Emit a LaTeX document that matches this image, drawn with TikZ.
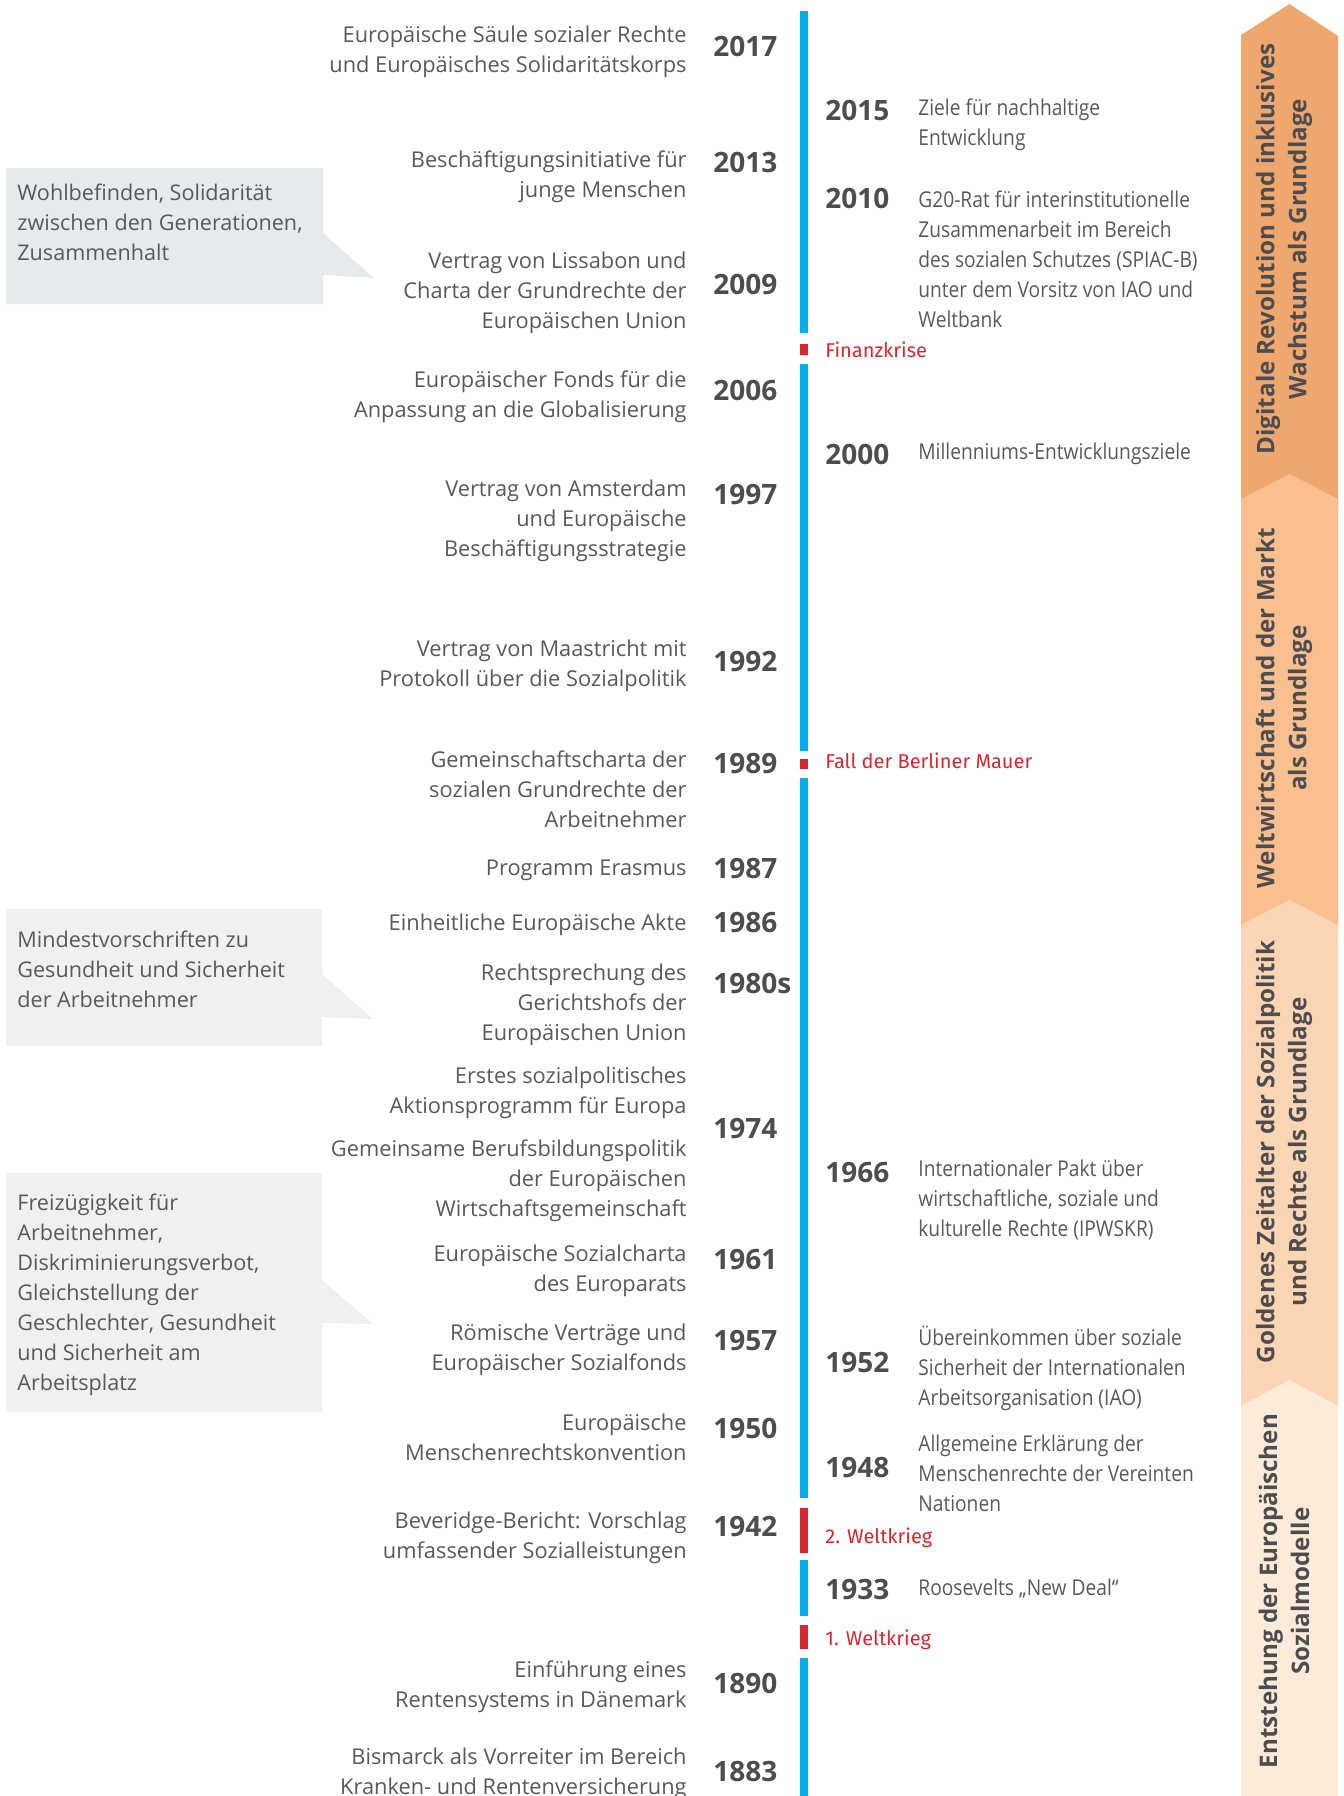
\documentclass[tikz,border=0pt]{standalone}
\usepackage{fontspec}
\setmainfont{Open Sans}
\newfontfamily\narrowfont[FakeStretch=0.88]{Open Sans}
\newfontfamily\redfont{Fira Sans}
\definecolor{txtgray}{HTML}{58595B}
\definecolor{yeargray}{HTML}{4D4D4F}
\definecolor{lineblue}{HTML}{00AEEF}
\definecolor{warred}{HTML}{D7282F}
\definecolor{boxblue}{HTML}{E7EAED}
\definecolor{boxgray}{HTML}{F0F0F0}
\definecolor{bandA}{HTML}{EFA76D}
\definecolor{bandB}{HTML}{F9BF8F}
\definecolor{bandC}{HTML}{FCD5B5}
\definecolor{bandD}{HTML}{FDEBDA}
\tikzset{
  lefttext/.style={anchor=east,align=right,inner sep=0pt,text=txtgray,font=\fontsize{10.9}{15}\selectfont},
  righttext/.style={anchor=west,align=left,inner sep=0pt,text=txtgray,font=\narrowfont\fontsize{10.9}{15}\selectfont},
  boxtext/.style={anchor=north west,align=left,inner sep=0pt,text=txtgray,font=\fontsize{10.8}{15}\selectfont},
  yearlabel/.style={anchor=west,inner sep=0pt,text=yeargray,font=\bfseries\fontsize{14}{15}\selectfont},
  crisis/.style={anchor=west,inner sep=0pt,text=warred,font=\redfont\fontsize{10}{15}\selectfont},
  bandtext/.style={rotate=90,align=center,inner sep=0pt,text=yeargray,font=\bfseries\fontsize{12.1}{16}\selectfont}
}
\begin{document}
\begin{tikzpicture}[x=0.5pt,y=-0.5pt]
  \useasboundingbox (0,0) rectangle (1344,1796);
  \fill[bandA] (1241,35) -- (1289.5,4) -- (1338,36) -- (1338,510) -- (1241,510) -- cycle;
  \fill[bandB] (1241,499) -- (1289.5,474) -- (1338,499) -- (1338,935) -- (1241,935) -- cycle;
  \fill[bandC] (1241,925) -- (1289.5,900) -- (1338,925) -- (1338,1415) -- (1241,1415) -- cycle;
  \fill[bandD] (1241,1406) -- (1289.5,1380) -- (1338,1406) -- (1338,1796) -- (1241,1796) -- cycle;
  \node (bandA) [bandtext] at (1284,249) {Digitale Revolution und inklusives\\Wachstum als Grundlage};
  \node (bandB) [bandtext] at (1284,708) {Weltwirtschaft und der Markt\\als Grundlage};
  \node (bandC) [bandtext] at (1284,1152) {Goldenes Zeitalter der Sozialpolitik\\und Rechte als Grundlage};
  \node (bandD) [bandtext] at (1284,1591) {Entstehung der Europäischen\\Sozialmodelle};
  \foreach \a/\b in {11/333,364/751,778/1498,1560/1616,1658/1796} \fill[lineblue] (800,\a) rectangle (808,\b);
  \foreach \a/\b in {344/355,759/769,1508/1553,1625/1649} \fill[warred] (800,\a) rectangle (808,\b);
  \fill[boxblue] (6,168) -- (323,168) -- (323,233) -- (374,278) -- (323,275) -- (323,304) -- (6,304) -- cycle;
  \fill[boxgray] (6,909) -- (322,909) -- (322,974) -- (373,1019) -- (322,1017) -- (322,1046) -- (6,1046) -- cycle;
  \fill[boxgray] (6,1173) -- (322,1173) -- (322,1280) -- (373,1324) -- (322,1323) -- (322,1412) -- (6,1412) -- cycle;
  \node (boxA) [boxtext] at (17,184) {Wohlbefinden, Solidarität\\zwischen den Generationen,\\Zusammenhalt};
  \node (boxB) [boxtext] at (17,931) {Mindestvorschriften zu\\Gesundheit und Sicherheit\\der Arbeitnehmer};
  \node (boxC) [boxtext] at (17,1194) {Freizügigkeit für\\Arbeitnehmer,\\Diskriminierungsverbot,\\Gleichstellung der\\Geschlechter, Gesundheit\\und Sicherheit am\\Arbeitsplatz};
  \node (ev2017) [lefttext] at (687,51.5) {Europäische Säule sozialer Rechte\\und Europäisches Solidaritätskorps};
  \node (ev2013) [lefttext] at (687,176.5) {Beschäftigungsinitiative für\\junge Menschen};
  \node (ev2009) [lefttext] at (687,293) {Vertrag von Lissabon und\\Charta der Grundrechte der\\Europäischen Union};
  \node (ev2006) [lefttext] at (687,396.5) {Europäischer Fonds für die\\Anpassung an die Globalisierung};
  \node (ev1997) [lefttext] at (687,521) {Vertrag von Amsterdam\\und Europäische\\Beschäftigungsstrategie};
  \node (ev1992) [lefttext] at (687,666) {Vertrag von Maastricht mit\\Protokoll über die Sozialpolitik};
  \node (ev1989) [lefttext] at (687,789) {Gemeinschaftscharta der\\sozialen Grundrechte der\\Arbeitnehmer};
  \node (ev1987) [lefttext] at (687,870) {Programm Erasmus};
  \node (ev1986) [lefttext] at (687,925) {Einheitliche Europäische Akte};
  \node (ev1980) [lefttext] at (687,1005) {Rechtsprechung des\\Gerichtshofs der\\Europäischen Union};
  \node (ev1974a) [lefttext] at (687,1093) {Erstes sozialpolitisches\\Aktionsprogramm für Europa};
  \node (ev1974b) [lefttext] at (687,1181) {Gemeinsame Berufsbildungspolitik\\der Europäischen\\Wirtschaftsgemeinschaft};
  \node (ev1961) [lefttext] at (687,1271) {Europäische Sozialcharta\\des Europarats};
  \node (ev1957) [lefttext] at (687,1350) {Römische Verträge und\\Europäischer Sozialfonds};
  \node (ev1950) [lefttext] at (687,1437) {Europäische\\Menschenrechtskonvention};
  \node (ev1942) [lefttext] at (687,1538) {Beveridge-Bericht: Vorschlag\\umfassender Sozialleistungen};
  \node (ev1890) [lefttext] at (687,1687) {Einführung eines\\Rentensystems in Dänemark};
  \node (ev1883) [lefttext] at (687,1774) {Bismarck als Vorreiter im Bereich\\Kranken- und Rentenversicherung};
  \foreach \yr/\y in {2017/46,2013/162,2009/284,2006/390,1997/495,1992/661,1989/763,1987/868,1986/922,1980s/983,1974/1129,1961/1260,1957/1341,1950/1428,1942/1526,1890/1683,1883/1771}
    \node (yr\yr) [yearlabel] at (713,\y) {\yr};
  \foreach \yr/\y in {2015/110,2010/198,2000/454,1966/1173,1952/1362,1948/1467,1933/1589}
    \node (yr\yr) [yearlabel] at (825,\y) {\yr};
  \node (ev2015) [righttext] at (918,125) {Ziele für nachhaltige\\Entwicklung};
  \node (ev2010) [righttext] at (918,259.5) {G20-Rat für interinstitutionelle\\Zusammenarbeit im Bereich\\des sozialen Schutzes (SPIAC-B)\\unter dem Vorsitz von IAO und\\Weltbank};
  \node (ev2000) [righttext] at (918,454) {Millenniums-Entwicklungsziele};
  \node (ev1966) [righttext] at (918,1200) {Internationaler Pakt über\\wirtschaftliche, soziale und\\kulturelle Rechte (IPWSKR)};
  \node (ev1952) [righttext] at (918,1368) {Übereinkommen über soziale\\Sicherheit der Internationalen\\Arbeitsorganisation (IAO)};
  \node (ev1948) [righttext] at (918,1473) {Allgemeine Erklärung der\\Menschenrechte der Vereinten\\Nationen};
  \node (ev1933) [righttext] at (918,1589) {Roosevelts „New Deal“};
  \node (crisisA) [crisis] at (825,350) {Finanzkrise};
  \node (crisisB) [crisis] at (825,761) {Fall der Berliner Mauer};
  \node (crisisC) [crisis] at (825,1538) {2. Weltkrieg};
  \node (crisisD) [crisis] at (825,1640) {1. Weltkrieg};
\end{tikzpicture}
\end{document}
